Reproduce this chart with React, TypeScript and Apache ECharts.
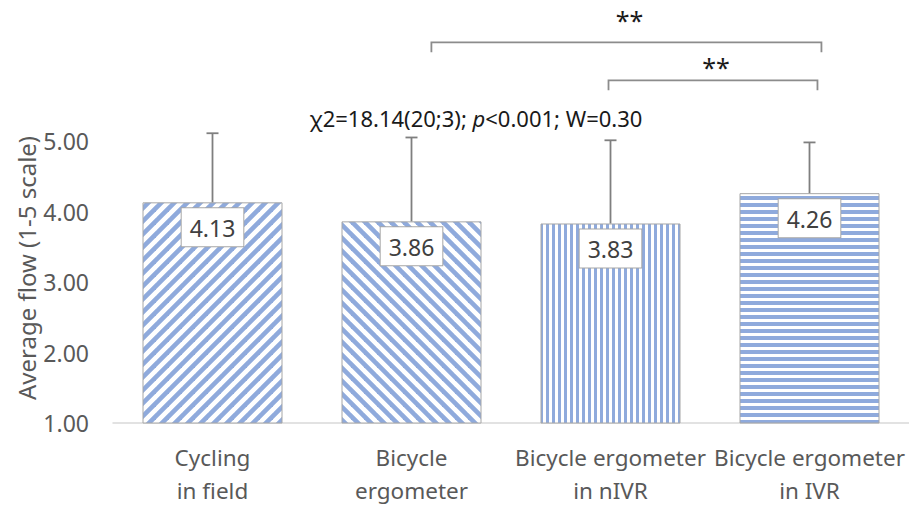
import React, { useEffect, useRef } from "react";
import * as echarts from "echarts";

const categories = ["Cycling\nin field", "Bicycle\nergometer", "Bicycle ergometer\nin nIVR", "Bicycle ergometer\nin IVR"];
const means = [4.13, 3.86, 3.83, 4.26];
const sds = [0.98, 1.19, 1.18, 0.72];
const patterns = ["diagUp", "diagDown", "vert", "horiz"];
const yTicks = [1, 2, 3, 4, 5];
// brackets: start/end positions in category units, bracket level, star level
const bracketStart = [1.1, 1.99];
const bracketEnd = [3.06, 3.04];
const bracketLevel = [6.4, 5.86];
const starLevel = [6.72, 6.05];
const bracketMarks = ["**", "**"];
const annotation = ["χ2=18.14(20;3); ", "p", "<0.001; W=0.30"];

const FONT = "'Noto Sans', 'Open Sans', sans-serif";
const BLUE = "#8FAADC";

function makePattern(kind: string): HTMLCanvasElement {
  const c = document.createElement("canvas");
  let w = 13, h = 13;
  if (kind === "vert") { w = 6; h = 6; }
  if (kind === "horiz") { w = 7; h = 7; }
  c.width = w; c.height = h;
  const ctx = c.getContext("2d")!;
  ctx.fillStyle = "#ffffff";
  ctx.fillRect(0, 0, w, h);
  ctx.fillStyle = BLUE;
  ctx.strokeStyle = BLUE;
  if (kind === "vert") {
    ctx.fillRect(0, 0, 3, h);
  } else if (kind === "horiz") {
    ctx.fillRect(0, 0, w, 4);
  } else {
    ctx.lineWidth = 4.6;
    ctx.lineCap = "square";
    for (let k = -2; k <= 3; k++) {
      const cc = k * w;
      ctx.beginPath();
      if (kind === "diagUp") {
        ctx.moveTo(cc + 2, -2);
        ctx.lineTo(cc - w - 2, h + 2);
      } else {
        ctx.moveTo(cc - 2, -2);
        ctx.lineTo(cc + w + 2, h + 2);
      }
      ctx.stroke();
    }
  }
  return c;
}

export default function App() {
  const ref = useRef<HTMLDivElement>(null);
  useEffect(() => {
    if (!ref.current) return;
    const chart = echarts.init(ref.current, null, { renderer: "svg" });
    const barData = means.map((m, i) => ({
      value: m,
      itemStyle: {
        color: { image: makePattern(patterns[i]), repeat: "repeat" } as any,
        borderColor: "#A6A6A6",
        borderWidth: 1,
      },
    }));
    const errData = means.map((m, i) => [i, m, sds[i]]);
    const brData = bracketStart.map((s, i) => [s, bracketEnd[i], bracketLevel[i], starLevel[i], i]);

    chart.setOption({
      animation: false,
      grid: { left: 113, right: -8, top: 0, bottom: 75, containLabel: false },
      xAxis: {
        type: "category",
        data: categories,
        axisLine: { show: true, lineStyle: { color: "#D9D9D9", width: 1.5 } },
        axisTick: { show: false },
        axisLabel: {
          interval: 0,
          margin: 18,
          color: "#595959",
          fontSize: 22.5,
          lineHeight: 33,
          fontFamily: FONT,
        },
      },
      yAxis: {
        type: "value",
        min: 1,
        max: 7,
        interval: 1,
        splitLine: { show: false },
        axisLine: { show: false },
        axisTick: { show: false },
        axisLabel: {
          margin: 24,
          color: "#595959",
          fontSize: 23,
          fontFamily: FONT,
          formatter: (v: number) => (yTicks.indexOf(v) >= 0 ? v.toFixed(2) : ""),
        },
      },
      graphic: [
        {
          type: "text",
          x: 26,
          y: 268,
          rotation: Math.PI / 2,
          style: {
            text: "Average flow (1-5 scale)",
            fontSize: 24,
            fontFamily: FONT,
            fill: "#595959",
            align: "center",
            verticalAlign: "middle",
          },
        },
        {
          type: "text",
          x: 476,
          y: 118,
          style: {
            text: `{a|${annotation[0]}}{i|${annotation[1]}}{a|${annotation[2]}}`,
            align: "center",
            verticalAlign: "middle",
            fill: "#1a1a1a",
            rich: {
              a: { fontSize: 22, fontFamily: FONT, fill: "#1a1a1a" },
              i: { fontSize: 22, fontFamily: FONT, fontStyle: "italic", fill: "#1a1a1a" },
            },
          },
        },
      ],
      series: [
        {
          type: "bar",
          data: barData,
          barWidth: 140,
          z: 2,
          label: {
            show: true,
            position: "insideTop",
            distance: 6,
            formatter: (p: any) => Number(p.value).toFixed(2),
            backgroundColor: "#ffffff",
            borderColor: "#A6A6A6",
            borderWidth: 1,
            padding: [8, 8, 7, 8],
            fontSize: 23,
            fontFamily: FONT,
            color: "#404040",
          },
        },
        {
          type: "custom",
          z: 3,
          data: errData,
          encode: { x: 0, y: 1 },
          renderItem: (params: any, api: any) => {
            const i = api.value(0);
            const m = api.value(1);
            const sd = api.value(2);
            const p0 = api.coord([i, m]);
            const p1 = api.coord([i, m + sd]);
            const style = { stroke: "#7F7F7F", lineWidth: 1.8 };
            return {
              type: "group",
              children: [
                { type: "line", shape: { x1: p0[0], y1: p0[1], x2: p1[0], y2: p1[1] }, style },
                { type: "line", shape: { x1: p1[0] - 6, y1: p1[1], x2: p1[0] + 6, y2: p1[1] }, style },
              ],
            };
          },
        },
        {
          type: "custom",
          z: 3,
          data: brData,
          encode: { x: 4, y: 2 },
          renderItem: (params: any, api: any) => {
            const s = api.value(0);
            const e = api.value(1);
            const lvl = api.value(2);
            const sl = api.value(3);
            const idx = params.dataIndex;
            const base = api.coord([0, lvl]);
            const bw = api.size([1, 0])[0];
            const x0 = base[0] + s * bw;
            const x1 = base[0] + e * bw;
            const y = base[1];
            const ys = api.coord([0, sl])[1];
            const style = { stroke: "#8C8C8C", lineWidth: 1.8, fill: "none" };
            return {
              type: "group",
              children: [
                {
                  type: "polyline",
                  shape: { points: [[x0, y + 10], [x0, y], [x1, y], [x1, y + 10]] },
                  style,
                },
                {
                  type: "text",
                  x: (x0 + x1) / 2 + 3,
                  y: ys,
                  style: {
                    text: bracketMarks[idx],
                    fontSize: 25,
                    fontFamily: FONT,
                    fill: "#1a1a1a",
                    align: "center",
                    verticalAlign: "middle",
                  },
                },
              ],
            };
          },
        },
      ],
    });
    return () => chart.dispose();
  }, []);
  return <div ref={ref} style={{ width: 909, height: 507, position: "absolute", left: 0, top: 0 }} />;
}
